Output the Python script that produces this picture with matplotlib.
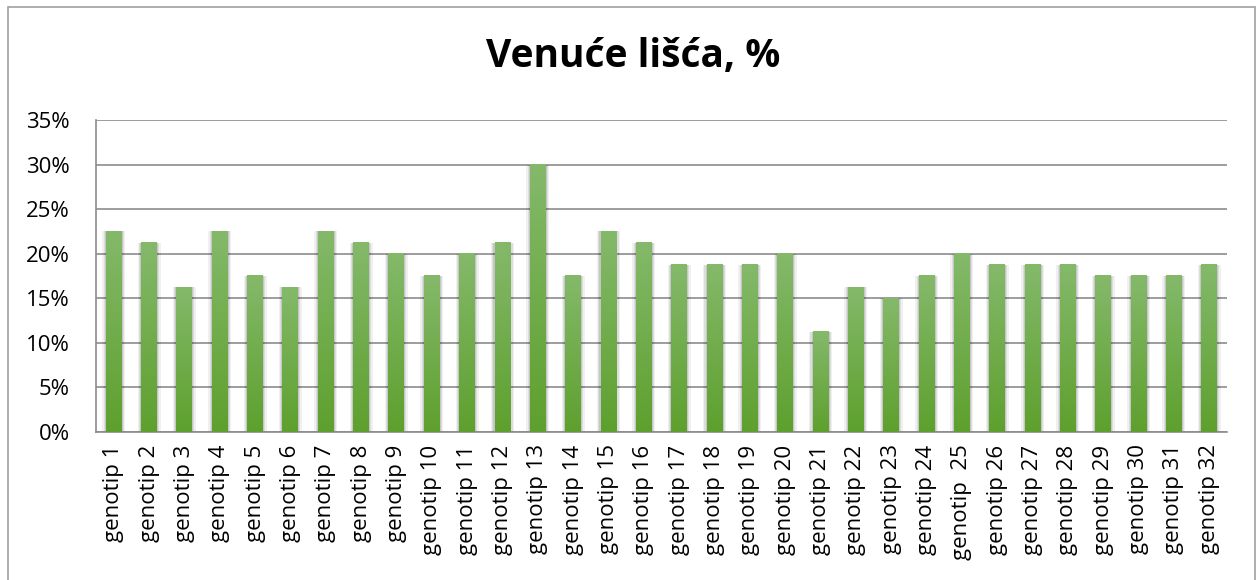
import matplotlib
matplotlib.use("Agg")
import matplotlib.pyplot as plt
import numpy as np
from matplotlib.ticker import PercentFormatter
from matplotlib.colors import LinearSegmentedColormap
from matplotlib.patches import Rectangle

plt.rcParams['font.family'] = ['Open Sans', 'DejaVu Sans']

genotypes = ['genotip 1', 'genotip 2', 'genotip 3', 'genotip 4', 'genotip 5', 'genotip 6',
             'genotip 7', 'genotip 8', 'genotip 9', 'genotip 10', 'genotip 11', 'genotip 12',
             'genotip 13', 'genotip 14', 'genotip 15', 'genotip 16', 'genotip 17', 'genotip 18',
             'genotip 19', 'genotip 20', 'genotip 21', 'genotip 22', 'genotip 23', 'genotip 24',
             'genotip  25', 'genotip 26', 'genotip 27', 'genotip 28', 'genotip 29', 'genotip 30',
             'genotip 31', 'genotip 32']
wilting = [22.5, 21.25, 16.25, 22.5, 17.5, 16.25, 22.5, 21.25, 20.0, 17.5, 20.0, 21.25,
           30.0, 17.5, 22.5, 21.25, 18.75, 18.75, 18.75, 20.0, 11.25, 16.25, 15.0, 17.5,
           20.0, 18.75, 18.75, 18.75, 17.5, 17.5, 17.5, 18.75]

fig = plt.figure(figsize=(12.57, 5.80), dpi=100)
ax = fig.add_axes([96/1257, 1 - 432/580, (1227 - 96)/1257, (432 - 120)/580])

# outer chart frame
fig.patches.append(Rectangle((8/1257, -0.01), (1255 - 8)/1257, 1.01 - 7/580,
                             transform=fig.transFigure, fill=False,
                             edgecolor='#a0a0a0', linewidth=1.2))

x = np.arange(len(wilting))
bars = ax.bar(x, wilting, width=0.45, color='none', zorder=3)

grad = LinearSegmentedColormap.from_list('g', ['#5ea02e', '#84b96a'])
img = np.linspace(0, 1, 100).reshape(-1, 1)
for b in bars:
    x0, w, h = b.get_x(), b.get_width(), b.get_height()
    # soft shadow
    for k, a in [(0.10, 0.06), (0.06, 0.08), (0.03, 0.10)]:
        ax.add_patch(Rectangle((x0 - k, 0), w + 2 * k, h, color='black', alpha=a,
                               linewidth=0, zorder=2))
    ax.imshow(img, extent=(x0, x0 + w, 0, h), origin='lower', cmap=grad,
              aspect='auto', zorder=3)

ax.set_xlim(-0.5, len(wilting) - 0.5)
ax.set_ylim(0, 35)
ax.set_yticks(np.arange(0, 36, 5))
ax.yaxis.set_major_formatter(PercentFormatter(decimals=0))
ax.set_xticks(x)
ax.set_xticklabels(genotypes, rotation=90)
ax.tick_params(axis='both', length=0, labelsize=16)
ax.tick_params(axis='y', pad=19)
ax.tick_params(axis='x', pad=9)
ax.grid(axis='y', color='#8c8c8c', linewidth=1.2, zorder=0)
ax.set_axisbelow(True)
for s in ['top', 'right']:
    ax.spines[s].set_visible(False)
for s in ['left', 'bottom']:
    ax.spines[s].set_color('#8c8c8c')
    ax.spines[s].set_linewidth(1.2)

fig.text(633/1257, 1 - 57/580, 'Venuće lišća, %', ha='center', va='center',
         fontsize=28, fontweight='bold')

fig.savefig('out.png', dpi=100)
